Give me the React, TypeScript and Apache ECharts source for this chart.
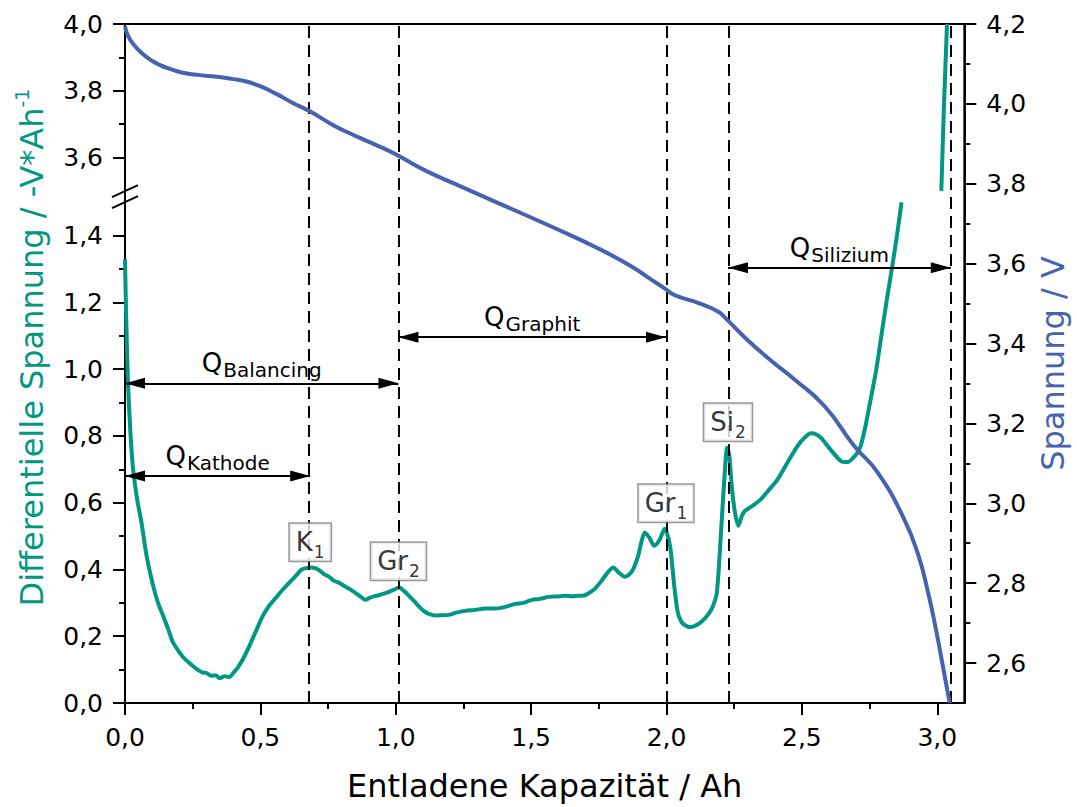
import React, { useEffect, useRef } from 'react';
import * as echarts from 'echarts';

const FONT = "'DejaVu Sans', 'Liberation Sans', sans-serif";
const GREEN = '#009882';
const BLUE = '#4663B1';

// Differential voltage (-V/Ah) over discharged capacity (Ah); '-' = hidden inside the axis break
const dvCapacity = [
  0.000, 0.004, 0.011, 0.020, 0.030, 0.045, 0.061, 0.080, 0.104, 0.122,
  0.141, 0.160, 0.177, 0.196, 0.215, 0.240, 0.264, 0.285, 0.300, 0.318,
  0.335, 0.350, 0.368, 0.386, 0.400, 0.417, 0.438, 0.460, 0.485, 0.509,
  0.533, 0.558, 0.583, 0.607, 0.630, 0.650, 0.668, 0.687, 0.703, 0.717,
  0.735, 0.754, 0.772, 0.791, 0.815, 0.840, 0.865, 0.889, 0.905, 0.926,
  0.950, 0.975, 0.995, 1.012, 1.030, 1.049, 1.068, 1.086, 1.104, 1.122,
  1.147, 1.171, 1.196, 1.220, 1.257, 1.294, 1.331, 1.368, 1.405, 1.441,
  1.472, 1.502, 1.533, 1.564, 1.595, 1.625, 1.650, 1.675, 1.695, 1.711,
  1.735, 1.760, 1.782, 1.803, 1.825, 1.846, 1.862, 1.877, 1.895, 1.908,
  1.920, 1.937, 1.955, 1.975, 1.993, 2.005, 2.015, 2.030, 2.042, 2.055,
  2.070, 2.088, 2.115, 2.141, 2.160, 2.171, 2.186, 2.202, 2.215, 2.224,
  2.232, 2.242, 2.253, 2.265, 2.278, 2.290, 2.320, 2.349, 2.380, 2.411,
  2.450, 2.484, 2.510, 2.533, 2.550, 2.570, 2.605, 2.644, 2.670, 2.693,
  2.705, 2.717, 2.735, 2.754, 2.775, 2.797, 2.816, 2.834, 2.851, 2.868,
  2.940, 3.015, 3.025, 3.036,
];
const dvValue: (number | string)[] = [
  1.330, 1.170, 0.960, 0.810, 0.700, 0.610, 0.540, 0.440, 0.351, 0.300,
  0.261, 0.220, 0.182, 0.158, 0.137, 0.118, 0.102, 0.092, 0.090, 0.082,
  0.083, 0.074, 0.080, 0.078, 0.090, 0.107, 0.135, 0.172, 0.218, 0.261,
  0.292, 0.316, 0.340, 0.361, 0.380, 0.398, 0.404, 0.406, 0.404, 0.398,
  0.386, 0.378, 0.366, 0.360, 0.348, 0.336, 0.322, 0.309, 0.316, 0.321,
  0.326, 0.333, 0.340, 0.346, 0.336, 0.321, 0.305, 0.289, 0.275, 0.267,
  0.262, 0.263, 0.264, 0.270, 0.276, 0.279, 0.283, 0.283, 0.288, 0.297,
  0.300, 0.309, 0.312, 0.318, 0.319, 0.321, 0.320, 0.321, 0.322, 0.328,
  0.342, 0.366, 0.390, 0.406, 0.390, 0.378, 0.385, 0.401, 0.440, 0.485,
  0.511, 0.495, 0.471, 0.490, 0.522, 0.500, 0.460, 0.340, 0.270, 0.243,
  0.232, 0.227, 0.235, 0.253, 0.272, 0.289, 0.330, 0.520, 0.690, 0.765,
  0.740, 0.640, 0.570, 0.531, 0.560, 0.576, 0.592, 0.611, 0.640, 0.671,
  0.725, 0.770, 0.795, 0.808, 0.806, 0.795, 0.760, 0.725, 0.722, 0.738,
  0.750, 0.770, 0.830, 0.910, 1.000, 1.120, 1.220, 1.310, 1.400, 1.500,
  '-', 3.500, 3.760, 4.000,
];

// Cell voltage (V) over discharged capacity (Ah)
const uCapacity = [
  0.000, 0.010, 0.030, 0.066, 0.100, 0.130, 0.155, 0.213, 0.276, 0.338,
  0.399, 0.448, 0.497, 0.559, 0.618, 0.681, 0.766, 0.828, 0.890, 0.951,
  1.005, 1.110, 1.258, 1.441, 1.564, 1.748, 1.871, 1.944, 1.993, 2.030,
  2.116, 2.190, 2.226, 2.300, 2.390, 2.473, 2.584, 2.694, 2.779, 2.878,
  2.930, 2.965, 2.995, 3.020, 3.046,
];
const uValue = [
  4.195, 4.172, 4.150, 4.125, 4.108, 4.097, 4.090, 4.078, 4.072, 4.068,
  4.062, 4.056, 4.045, 4.025, 4.003, 3.982, 3.948, 3.927, 3.908, 3.890,
  3.872, 3.833, 3.788, 3.733, 3.696, 3.638, 3.593, 3.560, 3.538, 3.521,
  3.502, 3.480, 3.458, 3.408, 3.355, 3.310, 3.243, 3.143, 3.078, 2.960,
  2.870, 2.780, 2.685, 2.595, 2.500,
];

// Dashed marker positions (Ah)
const markerCapacity = [0.684, 1.010, 1.998, 2.227, 3.050];

// Peak tags
const peakLabel = ['K', 'Gr', 'Gr', 'Si'];
const peakIndex = ['1', '2', '1', '2'];
const peakCapacity = [0.684, 1.010, 1.998, 2.227];
const peakLevel = [0.405, 0.348, 0.522, 0.765];

// Capacity spans (double arrows)
const spanName = ['Kathode', 'Balancing', 'Graphit', 'Silizium'];
const spanFrom = [0, 0, 1.010, 2.227];
const spanTo = [0.684, 1.010, 1.998, 3.050];
const spanLevel = [0.68, 0.958, 1.096, 1.304];

// Tick positions
const xTicks = [0, 0.5, 1.0, 1.5, 2.0, 2.5, 3.0];
const xMinorTicks = [0.25, 0.75, 1.25, 1.75, 2.25, 2.75];
const dvTicks = [0, 0.2, 0.4, 0.6, 0.8, 1.0, 1.2, 1.4, 3.6, 3.8, 4.0];
const dvMinorTicks = [0.1, 0.3, 0.5, 0.7, 0.9, 1.1, 1.3, 3.7, 3.9];
const uTicks = [2.6, 2.8, 3.0, 3.2, 3.4, 3.6, 3.8, 4.0, 4.2];
const uMinorTicks = [2.7, 2.9, 3.1, 3.3, 3.5, 3.7, 3.9, 4.1];

// Broken left axis: everything above BREAK_TO is shifted down so that the
// range BREAK_FROM..BREAK_TO collapses into a narrow gap of BREAK_GAP.
const BREAK_FROM = 1.5;
const BREAK_TO = 3.5;
const BREAK_GAP = 0.0344;
const DV_MAX = 4.0;
const SHIFT = BREAK_TO - BREAK_FROM - BREAK_GAP;
const toAxis = (v: number) => (v >= BREAK_TO ? v - SHIFT : v);
const fromAxis = (t: number) => (t > BREAK_FROM + BREAK_GAP / 2 ? t + SHIFT : t);
const comma = (v: number) => v.toFixed(1).replace('.', ',');

const black = '#000';
const lineStyle = { color: black, width: 2 };
const tickLabel = { color: black, fontSize: 25, fontFamily: FONT };

export default function App() {
  const ref = useRef<HTMLDivElement>(null);

  useEffect(() => {
    if (!ref.current) return;
    const chart = echarts.init(ref.current, null, { renderer: 'svg' });

    const dvData = dvCapacity.map((x, i) => {
      const v = dvValue[i];
      return [x, typeof v === 'number' ? toAxis(v) : '-'];
    });
    const uData = uCapacity.map((x, i) => [x, uValue[i]]);

    const subRich = (main: number, sub: number, pad: number, color: string) => ({
      m: { fontSize: main, lineHeight: main + 2, verticalAlign: 'top', color, fontFamily: FONT },
      s: { fontSize: sub, lineHeight: sub, padding: [pad, 0, 0, 1], verticalAlign: 'top', color, fontFamily: FONT },
    });

    chart.setOption({
      animation: false,
      backgroundColor: '#fff',
      textStyle: { fontFamily: FONT },
      grid: { left: 125, right: 110, top: 24, bottom: 103, show: true, borderColor: black, borderWidth: 2, backgroundColor: 'transparent' },
      xAxis: [
        {
          type: 'value', min: 0, max: 3.1, position: 'bottom',
          axisLine: { show: true, onZero: false, lineStyle },
          axisTick: { show: true, customValues: xTicks, length: 12, lineStyle },
          axisLabel: { show: true, customValues: xTicks, formatter: (v: number) => comma(v), margin: 22, ...tickLabel },
          splitLine: { show: false },
          name: 'Entladene Kapazität / Ah', nameLocation: 'middle', nameGap: 67,
          nameTextStyle: { fontSize: 32, color: black, fontFamily: FONT },
        },
        {
          type: 'value', min: 0, max: 3.1, position: 'bottom',
          axisLine: { show: false, onZero: false },
          axisTick: { show: true, customValues: xMinorTicks, length: 6, lineStyle },
          axisLabel: { show: false },
          splitLine: { show: false },
        },
      ],
      yAxis: [
        {
          type: 'value', min: 0, max: toAxis(DV_MAX), position: 'left',
          axisLine: { show: true, onZero: false, lineStyle },
          axisTick: { show: true, customValues: dvTicks.map(toAxis), length: 12, lineStyle },
          axisLabel: { show: true, customValues: dvTicks.map(toAxis), formatter: (v: number) => comma(fromAxis(v)), margin: 22, ...tickLabel },
          splitLine: { show: false },
          name: '{t|Differentielle Spannung / -V*Ah}{p|-1}', nameLocation: 'middle', nameGap: 77,
          nameTextStyle: {
            color: GREEN, fontFamily: FONT, fontSize: 32, padding: [0, 0, 0, 32],
            rich: {
              t: { fontSize: 32, lineHeight: 36, verticalAlign: 'bottom', color: GREEN, fontFamily: FONT },
              p: { fontSize: 19, lineHeight: 19, verticalAlign: 'top', color: GREEN, fontFamily: FONT },
            },
          },
        },
        {
          type: 'value', min: 2.5, max: 4.2, position: 'right',
          axisLine: { show: true, onZero: false, lineStyle },
          axisTick: { show: true, customValues: uTicks, length: 12, lineStyle },
          axisLabel: { show: true, customValues: uTicks, formatter: (v: number) => comma(v), margin: 22, ...tickLabel },
          splitLine: { show: false },
          name: 'Spannung / V', nameLocation: 'middle', nameGap: 72,
          nameTextStyle: { fontSize: 32, color: BLUE, fontFamily: FONT },
        },
        {
          type: 'value', min: 0, max: toAxis(DV_MAX), position: 'left',
          axisLine: { show: false, onZero: false },
          axisTick: { show: true, customValues: dvMinorTicks.map(toAxis), length: 6, lineStyle },
          axisLabel: { show: false },
          splitLine: { show: false },
        },
        {
          type: 'value', min: 2.5, max: 4.2, position: 'right',
          axisLine: { show: false, onZero: false },
          axisTick: { show: true, customValues: uMinorTicks, length: 6, lineStyle },
          axisLabel: { show: false },
          splitLine: { show: false },
        },
      ],
      series: [
        {
          type: 'line', name: 'markers', xAxisIndex: 0, yAxisIndex: 0, data: [], z: 3, silent: true,
          markLine: {
            silent: true, animation: false, symbol: ['none', 'none'],
            label: { show: false },
            emphasis: { disabled: true },
            lineStyle: { color: black, width: 2, type: [12, 7] },
            data: markerCapacity.map((x) => ({ xAxis: x })),
          },
        },
        {
          type: 'line', name: 'dV/dQ', xAxisIndex: 0, yAxisIndex: 0, data: dvData, z: 4,
          showSymbol: false, symbol: 'none', connectNulls: false, smooth: 0.25,
          lineStyle: { color: GREEN, width: 4 }, itemStyle: { color: GREEN }, silent: true,
        },
        {
          type: 'line', name: 'U', xAxisIndex: 0, yAxisIndex: 1, data: uData, z: 5,
          showSymbol: false, symbol: 'none', smooth: 0.5,
          lineStyle: { color: BLUE, width: 4 }, itemStyle: { color: BLUE }, silent: true,
        },
        {
          type: 'line', name: 'spans', xAxisIndex: 0, yAxisIndex: 0, data: [], z: 6, silent: true,
          markLine: {
            silent: true, animation: false,
            symbol: ['triangle', 'triangle'], symbolSize: [11, 20], symbolOffset: [[0, 10], [0, 10]],
            emphasis: { disabled: true },
            lineStyle: { color: black, width: 2, type: 'solid' },
            label: {
              show: true, position: 'insideMiddleTop', distance: 5, color: black,
              formatter: (p: any) => `{m|Q}{s|${spanName[p.dataIndex]}}`,
              rich: subRich(26, 20, 10, black),
            },
            data: spanFrom.map((s, i) => [
              { coord: [s, spanLevel[i]] },
              { coord: [spanTo[i], spanLevel[i]] },
            ]),
          },
        },
        {
          type: 'scatter', name: 'peaks', xAxisIndex: 0, yAxisIndex: 0, z: 10, silent: true,
          symbolSize: 0,
          data: peakCapacity.map((x, i) => [x, toAxis(peakLevel[i])]),
          label: {
            show: true, position: 'top', distance: 7, color: black,
            formatter: (p: any) => `{m|${peakLabel[p.dataIndex]}}{s|${peakIndex[p.dataIndex]}}`,
            backgroundColor: '#fff', borderColor: '#808080', borderWidth: 1.5, padding: [5, 6, 4, 6],
            rich: subRich(26, 17, 15, black),
          },
        },
      ],
    });

    // Break marks on the left axis
    const bx = chart.convertToPixel({ xAxisIndex: 0 }, 0) as number;
    const by = chart.convertToPixel({ yAxisIndex: 0 }, BREAK_FROM + BREAK_GAP / 2) as number;
    const slash = (dy: number) => ({
      type: 'line', z: 100,
      shape: { x1: bx - 13, y1: by + dy + 6, x2: bx + 13, y2: by + dy - 6 },
      style: { stroke: black, lineWidth: 2 },
    });
    chart.setOption({ graphic: [slash(-5.5), slash(5.5)] });

    return () => chart.dispose();
  }, []);

  return (
    <div
      ref={ref}
      style={{ position: 'absolute', left: 0, top: 0, width: 1077, height: 807, background: '#fff' }}
    />
  );
}
